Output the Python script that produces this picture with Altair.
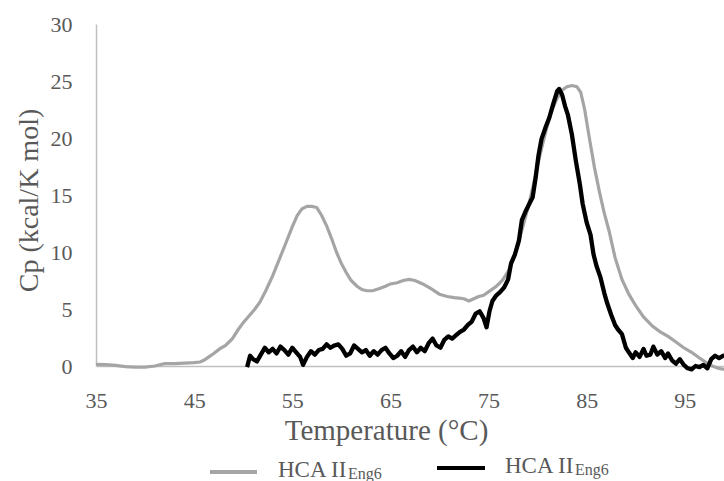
import altair as alt
import pandas as pd

# Gray series (HCA II Eng6, first trace)
gray_t = [35.0, 36.0, 37.0, 38.0, 39.0, 40.0, 41.0, 42.0, 43.0, 44.0, 45.0, 45.6, 46.0, 46.5, 47.0,
          47.6, 48.2, 48.9, 49.5, 50.0, 50.7, 51.2, 51.7, 52.3, 53.0, 53.7, 54.4, 55.0, 55.5, 56.0,
          56.5, 57.0, 57.5, 58.0, 58.5, 59.0, 59.5, 60.0, 60.5, 61.0, 61.6, 62.1, 62.6, 63.2, 63.9,
          64.5, 65.0, 65.7, 66.3, 66.9, 67.5, 68.3, 69.1, 70.0, 70.8, 71.5, 72.0, 72.5, 73.0, 73.5,
          74.0, 74.5, 75.0, 75.8, 76.4, 77.0, 77.5, 78.0, 78.5, 79.0, 79.5, 80.0, 80.5, 81.0, 81.5,
          82.0, 82.5, 83.0, 83.5, 84.0, 84.4, 84.8, 85.3, 85.8, 86.3, 86.8, 87.3, 87.9, 88.6, 89.3,
          90.0, 90.8, 91.7, 92.5, 93.3, 94.1, 94.9, 95.7, 96.5, 97.2, 97.8, 98.4, 99.0]
gray_cp = [0.15, 0.12, 0.05, -0.05, -0.1, -0.1, 0.0, 0.2, 0.2, 0.25, 0.3, 0.35, 0.5, 0.8, 1.1,
           1.5, 1.8, 2.4, 3.2, 3.8, 4.5, 5.0, 5.6, 6.6, 7.9, 9.4, 10.9, 12.2, 13.2, 13.8,
           14.0, 14.0, 13.9, 13.2, 12.3, 11.2, 10.0, 9.0, 8.2, 7.5, 7.0, 6.7, 6.6, 6.6, 6.8,
           7.0, 7.2, 7.3, 7.5, 7.6, 7.5, 7.2, 6.8, 6.3, 6.1, 6.0, 5.95, 5.9, 5.7, 5.9,
           6.1, 6.2, 6.5, 7.0, 7.5, 8.3, 9.3, 10.7, 12.2, 13.8, 15.6, 17.6, 19.4, 21.1, 22.5,
           23.5, 24.2, 24.5, 24.6, 24.5, 24.0, 22.5, 19.9, 17.4, 15.3, 13.4, 11.8, 9.5, 7.6, 6.3,
           5.3, 4.3, 3.5, 3.0, 2.6, 2.1, 1.6, 1.2, 0.7, 0.3, 0.0, -0.2, -0.3]

# Black series (HCA II Eng6, second trace)
black_t = [50.4, 50.7, 51.0, 51.4, 51.8, 52.2, 52.6, 53.0, 53.4, 53.8, 54.2, 54.6, 55.0, 55.4, 55.8,
           56.1, 56.5, 56.9, 57.3, 57.7, 58.1, 58.5, 58.9, 59.3, 59.7, 60.1, 60.5, 60.9, 61.3, 61.7,
           62.1, 62.5, 62.9, 63.3, 63.7, 64.1, 64.5, 64.9, 65.3, 65.7, 66.1, 66.5, 66.9, 67.3, 67.7,
           68.1, 68.5, 68.9, 69.3, 69.7, 70.1, 70.5, 70.9, 71.3, 71.7, 72.1, 72.5, 72.9, 73.3, 73.7,
           74.1, 74.5, 74.8, 75.1, 75.4, 75.8, 76.2, 76.6, 77.0, 77.3, 77.7, 78.1, 78.4, 78.8, 79.2,
           79.5, 79.8, 80.1, 80.4, 80.8, 81.2, 81.6, 82.0, 82.2, 82.5, 82.8, 83.1, 83.5, 83.9, 84.3,
           84.6, 85.0, 85.4, 85.7, 86.0, 86.4, 86.8, 87.1, 87.5, 87.9, 88.2, 88.6, 89.0, 89.3, 89.7,
           90.0, 90.4, 90.8, 91.1, 91.5, 91.8, 92.2, 92.6, 93.0, 93.3, 93.7, 94.1, 94.5, 94.9, 95.3,
           95.7, 96.1, 96.5, 96.9, 97.3, 97.7, 98.1, 98.5, 98.9, 99.0]
black_cp = [-0.1, 0.9, 0.6, 0.4, 1.0, 1.6, 1.2, 1.5, 1.1, 1.7, 1.4, 1.0, 1.6, 1.2, 0.8,
            0.1, 0.8, 1.3, 1.0, 1.4, 1.5, 1.9, 1.6, 1.8, 1.9, 1.5, 0.9, 1.1, 1.8, 1.5,
            1.2, 1.4, 0.9, 1.3, 1.0, 1.4, 1.6, 1.1, 0.7, 0.9, 1.3, 0.8, 1.4, 1.7, 1.2,
            1.6, 1.3, 2.0, 2.4, 1.8, 1.6, 2.3, 2.6, 2.4, 2.7, 3.0, 3.2, 3.6, 3.9, 4.6,
            4.8, 4.2, 3.4, 4.8, 5.7, 6.2, 6.5, 6.9, 7.6, 9.0, 9.8, 11.0, 12.8, 13.6, 14.3,
            14.8, 16.5, 18.5, 19.9, 20.9, 21.8, 23.0, 24.1, 24.3, 23.8, 22.8, 22.0, 20.3, 18.0, 16.0,
            14.2, 12.6, 11.5, 9.8, 8.8, 7.8, 6.4, 5.5, 4.5, 3.6, 3.2, 2.8, 1.6, 1.2, 0.7,
            1.2, 0.8, 1.5, 0.9, 1.0, 1.7, 1.0, 1.3, 0.7, 1.1, 0.5, 0.2, 0.6, 0.1, -0.2,
            -0.3, 0.0, -0.1, 0.1, -0.2, 0.6, 0.9, 0.7, 0.9, 0.8]

x_ticks = [35, 45, 55, 65, 75, 85, 95]
y_ticks = [0, 5, 10, 15, 20, 25, 30]
legend_main = ["HCA II", "HCA II"]
legend_sub = ["Eng6", "Eng6"]

FONT = "Liberation Serif"
TXT = "#595959"
W, H = 628, 342

gray_df = pd.DataFrame({"T": gray_t, "Cp": gray_cp})
black_df = pd.DataFrame({"T": black_t, "Cp": black_cp})

xs = alt.Scale(domain=[35, 99], nice=False, zero=False)
ys = alt.Scale(domain=[0, 30], nice=False)

x_axis = alt.Axis(values=x_ticks, title="Temperature (°C)", grid=False, ticks=False,
                  domainColor="#BFBFBF", domainWidth=1.5, labelFont=FONT, labelFontSize=22,
                  labelColor=TXT, labelPadding=24, titleFont=FONT, titleFontSize=29,
                  titleFontWeight="normal", titleColor=TXT, titlePadding=5,
                  titleX=290, titleAlign="center", labelFlush=False)
y_axis = alt.Axis(values=y_ticks, title="Cp (kcal/K mol)", grid=False, ticks=False,
                  domainColor="#BFBFBF", domainWidth=1.5, labelFont=FONT, labelFontSize=22,
                  labelColor=TXT, labelPadding=24, titleFont=FONT, titleFontSize=28,
                  titleFontWeight="normal", titleColor=TXT, titlePadding=7, titleY=176)

gray_line = alt.Chart(gray_df).mark_line(color="#A5A5A5", strokeWidth=3.2).encode(
    x=alt.X("T:Q", scale=xs, axis=x_axis),
    y=alt.Y("Cp:Q", scale=ys, axis=y_axis),
)
black_line = alt.Chart(black_df).mark_line(color="#000000", strokeWidth=4.3, strokeJoin="round").encode(
    x=alt.X("T:Q", scale=xs),
    y=alt.Y("Cp:Q", scale=ys),
)

one = alt.Data(values=[{"k": 1}])
leg_gray_sym = alt.Chart(one).mark_rule(color="#A5A5A5", strokeWidth=4).encode(
    x=alt.value(114), x2=alt.value(161), y=alt.value(448))
leg_black_sym = alt.Chart(one).mark_rule(color="#000000", strokeWidth=4).encode(
    x=alt.value(341), x2=alt.value(389), y=alt.value(444))
leg_gray_txt = alt.Chart(one).mark_text(font=FONT, fontSize=23, color=TXT, align="left",
                                        baseline="alphabetic").encode(
    x=alt.value(182), y=alt.value(453), text=alt.value(legend_main[0]))
leg_gray_sub = alt.Chart(one).mark_text(font=FONT, fontSize=16, color=TXT, align="left",
                                        baseline="alphabetic").encode(
    x=alt.value(252), y=alt.value(455), text=alt.value(legend_sub[0]))
leg_black_txt = alt.Chart(one).mark_text(font=FONT, fontSize=23, color=TXT, align="left",
                                         baseline="alphabetic").encode(
    x=alt.value(409), y=alt.value(449), text=alt.value(legend_main[1]))
leg_black_sub = alt.Chart(one).mark_text(font=FONT, fontSize=16, color=TXT, align="left",
                                         baseline="alphabetic").encode(
    x=alt.value(479), y=alt.value(451), text=alt.value(legend_sub[1]))

chart = alt.layer(
    gray_line, black_line, leg_gray_sym, leg_black_sym,
    leg_gray_txt, leg_gray_sub, leg_black_txt, leg_black_sub,
).properties(
    width=W, height=H,
    autosize=alt.AutoSizeParams(type="none"),
    padding={"left": 96, "top": 24, "right": 0, "bottom": 115},
    background="white",
).configure_view(stroke=None)

chart.save("out.html", embed_options={"renderer": "svg", "actions": False})
